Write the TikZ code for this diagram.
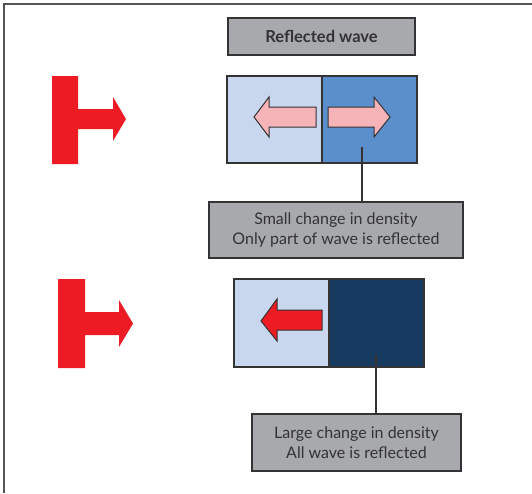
\documentclass[tikz,border=0pt]{standalone}
\usepackage{fontspec}
\setmainfont{Lato}
\definecolor{lightb}{HTML}{C8D6EE}
\definecolor{midb}{HTML}{5B8FCB}
\definecolor{darkb}{HTML}{173A60}
\definecolor{redarr}{HTML}{ED1C24}
\definecolor{pinkarr}{HTML}{F6B3B8}
\definecolor{boxgray}{HTML}{A7A9AC}
\definecolor{edge}{HTML}{333333}
\definecolor{framegray}{HTML}{555555}
\begin{document}
\begin{tikzpicture}[x=1pt,y=-1pt,
  frame/.style={draw=framegray,line width=1.5pt},
  lbl/.style={draw=edge,fill=boxgray,line width=1.3pt,inner sep=0pt,align=center,
    text=edge,font=\fontsize{16}{20.5}\selectfont},
  block/.style={draw=edge,line width=1.2pt,inner sep=0pt,minimum width=95,minimum height=87},
  conn/.style={draw=edge,line width=1.8pt},
  warrow/.style={draw=edge,line width=1pt,line join=miter},
  tarrow/.style={fill=redarr}]
\useasboundingbox (0,0) rectangle (532,493);
\draw[frame] (4,493) -- (4,4) -- (532,4);

\node[lbl,minimum width=187,minimum height=37,font=\fontsize{16.5}{20}\selectfont\bfseries] (title) at (321.5,36.5) {Reflected wave};

% top pair
\node[block,fill=lightb] (b1l) at (274.5,119.5) {};
\node[block,fill=midb] (b1r) at (369.5,119.5) {};
\draw[warrow,fill=pinkarr] (254,117) -- (269,97) -- (269,107) -- (316,107) -- (316,127) -- (269,127) -- (269,137) -- cycle;
\draw[warrow,fill=pinkarr] (390,117) -- (374,97) -- (374,107) -- (328,107) -- (328,127) -- (374,127) -- (374,137) -- cycle;
\node[lbl,minimum width=254,minimum height=56] (lab1) at (336,230) {Small change in density\\Only part of wave is reflected};
\coordinate (c1) at (362,147);
\draw[conn] (c1) -- (c1 |- lab1.north);

% bottom pair
\node[block,fill=lightb,minimum height=88] (b2l) at (281.5,323) {};
\node[block,fill=darkb,minimum height=88] (b2r) at (376.5,323) {};
\draw[warrow,fill=redarr] (261,321) -- (277,299) -- (277,310) -- (322,310) -- (322,330) -- (277,330) -- (277,341) -- cycle;
\node[lbl,minimum width=209,minimum height=57] (lab2) at (356.5,442.5) {Large change in density\\All wave is reflected};
\coordinate (c2) at (376,354);
\draw[conn] (c2) -- (c2 |- lab2.north);

% incoming red T-arrows
\fill[tarrow] (52,76) -- (78,76) -- (78,109) -- (113,109) -- (113,97) -- (126,119) -- (113,141) -- (113,129) -- (78,129) -- (78,164) -- (52,164) -- cycle;
\fill[tarrow] (58,279) -- (85,279) -- (85,312) -- (119,312) -- (119,300) -- (133,323.5) -- (119,347) -- (119,335) -- (85,335) -- (85,368) -- (58,368) -- cycle;
\end{tikzpicture}
\end{document}
